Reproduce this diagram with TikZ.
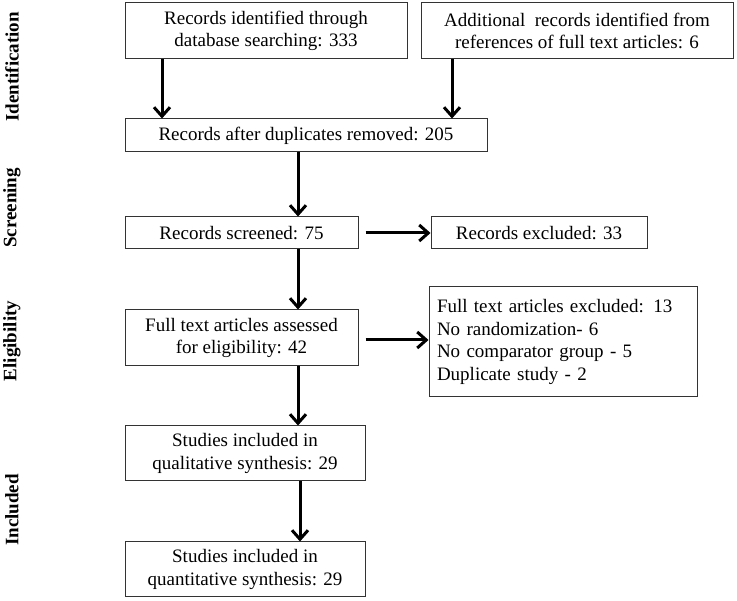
\documentclass[tikz,border=0pt]{standalone}
\usepackage{fontspec}
\setmainfont{Liberation Serif}
\usetikzlibrary{arrows.meta,calc}
\begin{document}
\begin{tikzpicture}[x=1pt,y=-1pt,
  box/.style={draw=black!80,line width=1pt,inner sep=0pt,align=center,
    font=\fontsize{19}{22.5}\selectfont},
  lbl/.style={rotate=90,font=\fontsize{19}{22}\selectfont\bfseries},
  arr/.style={line width=3pt,-{Straight Barb[length=9pt,width=16pt,line width=3pt]}}]
\useasboundingbox (0,0) rectangle (737,601);
\node[lbl] (l1) at (12,67) {Identification};
\node[lbl] (l2) at (12,208) {Screening};
\node[lbl] (l3) at (12,341) {Eligibility};
\node[lbl] (l4) at (12,510) {Included};

\node[box,minimum width=282pt,minimum height=56pt] (A) at (266,31)
  {Records identified through\\database searching: 333};
\node[box,minimum width=312pt,minimum height=56pt] (B) at (577,31)
  {Additional~ records identified from\\references of full text articles: 6};
\node[box,minimum width=362pt,minimum height=33pt] (C) at (306,135.5)
  {Records after duplicates removed: 205};
\node[box,minimum width=233pt,minimum height=32pt] (D) at (241.5,233)
  {Records screened: 75};
\node[box,minimum width=216pt,minimum height=32pt] (E) at (539,233)
  {Records excluded: 33};
\node[box,minimum width=233pt,minimum height=56pt] (F) at (241.5,338)
  {Full text articles assessed\\for eligibility: 42};
\node[box,minimum width=268pt,minimum height=110pt,align=left,text width=252pt] (G) at (563,342)
  {Full text articles excluded: 13\\No randomization- 6\\No comparator group - 5\\Duplicate study - 2};
\node[box,minimum width=240pt,minimum height=55pt] (H) at (245,453.5)
  {Studies included in\\qualitative synthesis: 29};
\node[box,minimum width=240pt,minimum height=55pt] (I) at (245,569.5)
  {Studies included in\\quantitative synthesis: 29};

\coordinate (xa) at (162,0);
\coordinate (xb) at (452,0);
\coordinate (xc) at (298,0);
\coordinate (xh) at (300,0);
\coordinate (yd) at (0,233);
\coordinate (yf) at (0,340);

\draw[arr] (A.south -| xa) -- (C.north -| xa);
\draw[arr] (B.south -| xb) -- (C.north -| xb);
\draw[arr] (C.south -| xc) -- (D.north -| xc);
\draw[arr] (D.south -| xc) -- (F.north -| xc);
\draw[arr] (F.south -| xc) -- (H.north -| xc);
\draw[arr] (H.south -| xh) -- (I.north -| xh);
\draw[arr] ($(D.east |- yd)+(7,0)$) -- (E.west |- yd);
\draw[arr] ($(F.east |- yf)+(7,0)$) -- (G.west |- yf);
\end{tikzpicture}
\end{document}
